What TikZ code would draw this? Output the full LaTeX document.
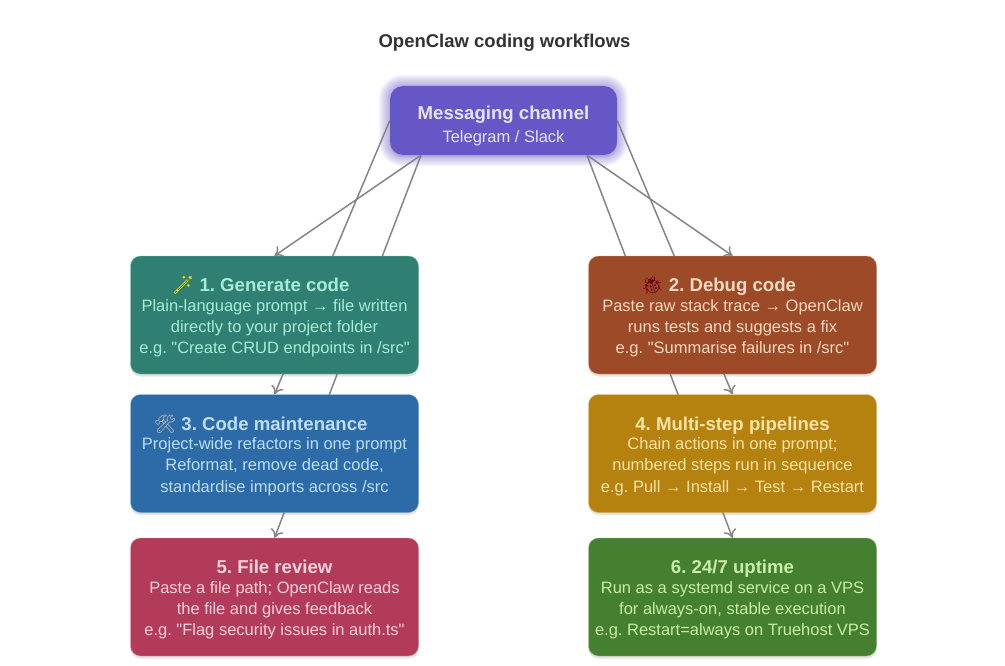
\documentclass[tikz,border=0pt]{standalone}
\usepackage{fontspec}
\newfontfamily\bodyfont{Liberation Sans}
\newfontfamily\emojifont{Noto Emoji}
\usetikzlibrary{arrows.meta}
\usetikzlibrary{positioning}
\usetikzlibrary{shadows}
\usetikzlibrary{backgrounds}
\definecolor{msgfill}{HTML}{6756C6}
\definecolor{msgtext}{HTML}{E6E2FB}
\definecolor{genfill}{HTML}{2F7F72}
\definecolor{gentext}{HTML}{A8EBD6}
\definecolor{dbgfill}{HTML}{9C4A28}
\definecolor{dbgtext}{HTML}{FAD9C2}
\definecolor{mntfill}{HTML}{2D6AA8}
\definecolor{mnttext}{HTML}{BCDEF7}
\definecolor{pipfill}{HTML}{B5810F}
\definecolor{piptext}{HTML}{FBE4A6}
\definecolor{revfill}{HTML}{B33B5A}
\definecolor{revtext}{HTML}{FAD2DA}
\definecolor{upfill}{HTML}{44802F}
\definecolor{uptext}{HTML}{C8EDA8}
\newcommand{\head}[1]{{\rule{0pt}{19pt}\fontsize{18.6}{20}\selectfont\bfseries #1}\\[-2pt]}
\newcommand{\icon}[2]{\llap{{\emojifont\textcolor{#1}{\fontsize{18}{20}\selectfont\symbol{#2}}}\kern5pt}}
\tikzstyle{block} = [rectangle, rounded corners=10pt, minimum width=288pt, minimum height=118pt, inner sep=0pt, align=center, font=\bodyfont\frenchspacing\fontsize{16.5}{21.3}\selectfont, drop shadow={opacity=0.22, shadow xshift=0pt, shadow yshift=-2.5pt}]
\tikzstyle{line} = [draw, color=black!48, line width=1.5pt, -{To[length=8pt,width=13pt]}]
\begin{document}
\begin{tikzpicture}[x=1pt, y=1pt, node distance=138.5pt]
            \useasboundingbox (0,0) rectangle (1005,-666);
            % Place nodes
            \node [font=\bodyfont\fontsize{18.5}{22}\selectfont\bfseries, text=black!80] (title) at (504.5,-43) {OpenClaw coding workflows};
            \node [block, rounded corners=13pt, fill=msgfill, text=msgtext, minimum width=227pt, minimum height=69pt] (msg) at (503.5,-120.5) {\rule{0pt}{24pt}{\fontsize{18.6}{20}\selectfont\bfseries Messaging channel}\\[2pt]Telegram / Slack};
            \node [block, fill=genfill, draw=gentext!60!genfill, text=gentext, below of=msg, node distance=194.5pt, xshift=-229pt] (gen) {\head{\icon{yellow!80!orange}{"1FA84}1. Generate code}Plain-language prompt → file written\\directly to your project folder\\e.g. "Create CRUD endpoints in /src"};
            \node [block, fill=dbgfill, draw=dbgtext!60!dbgfill, text=dbgtext, below of=msg, node distance=194.5pt, xshift=229pt] (dbg) {\head{\icon{red!45!black}{"1F41E}2. Debug code}Paste raw stack trace → OpenClaw\\runs tests and suggests a fix\\e.g. "Summarise failures in /src"};
            \node [block, fill=mntfill, draw=mnttext!60!mntfill, text=mnttext, below of=gen] (mnt) {\head{\icon{black!25}{"1F6E0}3. Code maintenance}Project-wide refactors in one prompt\\Reformat, remove dead code,\\standardise imports across /src};
            \node [block, fill=pipfill, draw=piptext!60!pipfill, text=piptext, below of=dbg] (pip) {\head{4. Multi-step pipelines}Chain actions in one prompt;\\numbered steps run in sequence\\e.g. Pull → Install → Test → Restart};
            \node [block, fill=revfill, draw=revtext!60!revfill, text=revtext, below of=mnt, node distance=143.5pt] (rev) {\head{5. File review}Paste a file path; OpenClaw reads\\the file and gives feedback\\e.g. "Flag security issues in auth.ts"};
            \node [block, fill=upfill, draw=uptext!60!upfill, text=uptext, below of=pip, node distance=143.5pt] (up) {\head{6. 24/7 uptime}Run as a systemd service on a VPS\\for always-on, stable execution\\e.g. Restart=always on Truehost VPS};
            % Draw edges
            \begin{scope}[on background layer]
            \foreach \g in {1,2,...,11}
                \fill [msgfill, opacity=0.05, rounded corners=13pt+\g pt] ([xshift=-\g pt, yshift=-\g pt]msg.south west) rectangle ([xshift=\g pt, yshift=\g pt]msg.north east);
            \path [line] ([xshift=-82.5pt]msg.south) -- (gen.north);
            \path [line] (msg.west) -- (mnt.north);
            \path [line] ([xshift=-82.5pt]msg.south) -- (rev.north);
            \path [line] ([xshift=83.5pt]msg.south) -- (dbg.north);
            \path [line] (msg.east) -- (pip.north);
            \path [line] ([xshift=83.5pt]msg.south) -- (up.north);
            \end{scope}
          \end{tikzpicture}
\end{document}
